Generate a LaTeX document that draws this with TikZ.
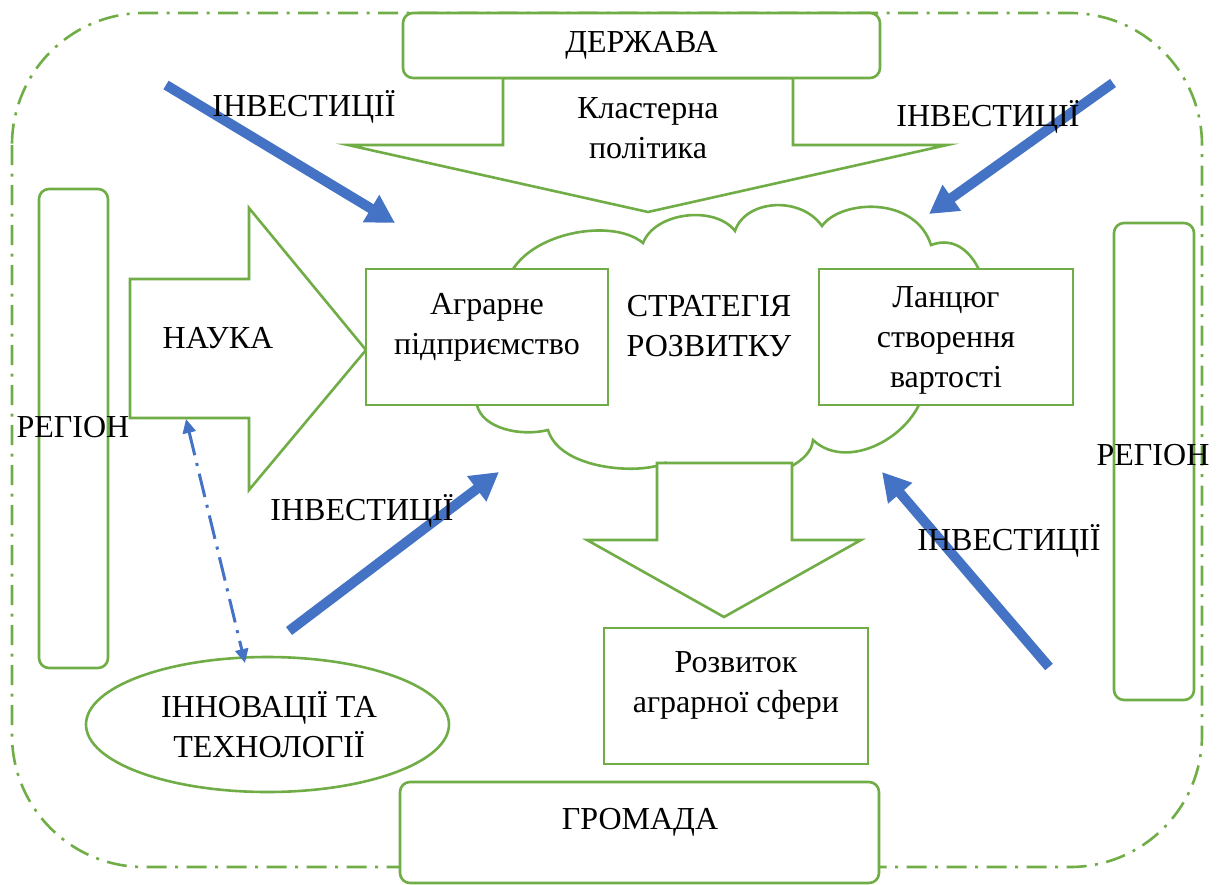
\documentclass[tikz,border=0pt]{standalone}
\usepackage{fontspec}
\setmainfont{Liberation Serif}
\usepackage{xcolor}
\usepackage{tikz}
\usetikzlibrary{arrows.meta,shapes.geometric,positioning}

\definecolor{wgreen}{HTML}{70AD47}
\definecolor{wblue}{HTML}{4472C4}

\begin{document}
\begin{tikzpicture}[x=0.5pt,y=-0.5pt,
    every node/.style={font=\fontsize{16}{20}\selectfont, align=center, inner sep=0pt},
    box/.style={draw=wgreen, line width=1.3pt, fill=white},
    rbox/.style={box, rounded corners=5pt},
    frame/.style={draw=wgreen, line width=1.3pt, dash pattern=on 10pt off 4.25pt on 1.5pt off 4.25pt},
    inv/.style={wblue, line width=5pt, -{Triangle[length=14pt,width=15pt]}},
    link/.style={wblue, line width=1.5pt, dash pattern=on 12pt off 4pt on 1.5pt off 4pt,
        {Triangle[length=7pt,width=6.5pt]}-{Triangle[length=7pt,width=6.5pt]}}]
    \useasboundingbox (0,0) rectangle (1221,884);

    % Outer frame
    \draw[frame, rounded corners=66pt] (12,13) rectangle (1202,867);

    % Regions
    \node[rbox, minimum width=34.5pt, minimum height=239.5pt] (regl) at (73.5,428.5) {};
    \node[rbox, minimum width=40pt, minimum height=238.5pt] (regr) at (1154,461.5) {};

    % Cloud
    \draw[box] (505,292) .. controls (510,235) and (610,215) .. (643,243)
        .. controls (655,212) and (715,205) .. (735,231)
        .. controls (745,200) and (800,195) .. (822,226)
        .. controls (840,200) and (915,195) .. (931,245)
        .. controls (955,236) and (975,252) .. (985,285)
        .. controls (1000,320) and (1000,370) .. (925,380)
        .. controls (925,430) and (850,475) .. (813,440)
        .. controls (812,452) and (802,460) .. (792,466)
        -- (665,466) -- (665,463)
        .. controls (640,475) and (560,470) .. (548,430)
        .. controls (520,437) and (482,428) .. (477,405)
        -- (455,395) -- (460,300) -- cycle;

    % Block arrows
    \draw[box] (503,78) -- (793,78) -- (793,145) -- (947,145) -- (648,212)
        -- (348,145) -- (503,145) -- cycle;
    \draw[box] (130,279) -- (249,279) -- (249,208) -- (366,350) -- (249,490)
        -- (249,418) -- (130,418) -- cycle;
    \draw[box] (657,463) -- (792,463) -- (792,540) -- (861,540) -- (724,617)
        -- (587,540) -- (657,540) -- cycle;

    % Boxes
    \node[rbox, minimum width=238.5pt, minimum height=32.5pt] (derzh) at (641.5,45.5) {ДЕРЖАВА};
    \node[rbox, minimum width=239.5pt, minimum height=50.5pt] (hrom) at (639.5,832.5) {};
    \node[box, minimum width=121pt, minimum height=68pt] (agr) at (487,337) {};
    \node[box, minimum width=127pt, minimum height=68pt] (lanc) at (946,337) {};
    \node[box, minimum width=132pt, minimum height=68pt] (rozv) at (736,696) {};
    \node[box, ellipse, minimum width=181.5pt, minimum height=67.5pt] (innov) at (267.5,724.5) {};

    % Texts
    \node (klast) at (648,128) {Кластерна\\політика};
    \node (nauka) at (218,338) {НАУКА};
    \node (regltxt) at (73,427) {РЕГІОН};
    \node (regrtxt) at (1153,455) {РЕГІОН};
    \node (agrtxt) at (487,327) {Аграрне\\підприємство};
    \node (strat) at (709,326) {СТРАТЕГІЯ\\РОЗВИТКУ};
    \node (lanctxt) at (946,340) {Ланцюг\\створення\\вартості};
    \node (rozvtxt) at (736,685) {Розвиток\\аграрної сфери};
    \node (hromtxt) at (640,822) {ГРОМАДА};
    \node (innovtxt) at (269,725) {ІННОВАЦІЇ ТА\\ТЕХНОЛОГІЇ};

    % Investments
    \coordinate (inv1a) at (166,85);
    \coordinate (inv1b) at (395,223);
    \coordinate (inv2a) at (1113,83);
    \coordinate (inv2b) at (929,214);
    \coordinate (inv3a) at (289,631);
    \coordinate (inv3b) at (499,472);
    \coordinate (inv4a) at (1049,667);
    \coordinate (inv4b) at (882,472);
    \draw[inv] (inv1a) -- (inv1b);
    \draw[inv] (inv2a) -- (inv2b);
    \draw[inv] (inv3a) -- (inv3b);
    \draw[inv] (inv4a) -- (inv4b);
    \node (inv1) at (304,107) {ІНВЕСТИЦІЇ};
    \node (inv2) at (988,117) {ІНВЕСТИЦІЇ};
    \node (inv3) at (362,511) {ІНВЕСТИЦІЇ};
    \node (inv4) at (1009,541) {ІНВЕСТИЦІЇ};

    % Science - innovations
    \coordinate (naukabot) at (186,419);
    \coordinate (innovtop) at (245,663);
    \draw[link] (naukabot) -- (innovtop);
\end{tikzpicture}
\end{document}
